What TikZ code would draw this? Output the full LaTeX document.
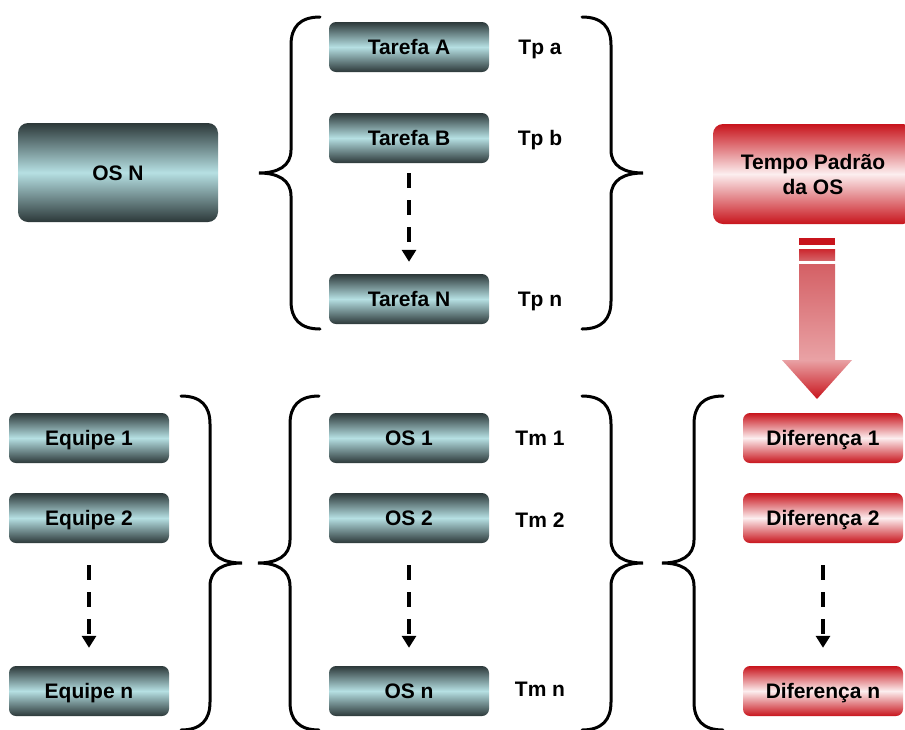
\documentclass[tikz,border=0pt]{standalone}
\usepackage{fontspec}
\setmainfont{Liberation Sans}
\usetikzlibrary{arrows.meta}
\definecolor{tealdark}{HTML}{2C3839}
\definecolor{teallight}{HTML}{B6E0E3}
\definecolor{reddark}{HTML}{C8141C}
\definecolor{redlight}{HTML}{FCEEEF}
\definecolor{redmid}{HTML}{D46065}
\definecolor{redpale}{HTML}{F3C2C4}
\definecolor{redsoft}{HTML}{E9A2A5}
\newcommand\lbl{\bfseries\fontsize{21}{25}\selectfont}
\tikzset{
  boxbase/.style={rounded corners=7pt, minimum width=160pt, minimum height=50pt, inner sep=0pt, font=\lbl},
  tbox/.style={boxbase, top color=tealdark, bottom color=tealdark, middle color=teallight,
    text height=15pt, text depth=0pt},
  rbox/.style={boxbase, top color=reddark, bottom color=reddark, middle color=redlight,
    text height=15pt, text depth=0pt},
  bigred/.style={boxbase, top color=reddark, bottom color=reddark, middle color=redlight,
    minimum width=200pt, minimum height=100pt, rounded corners=10pt, align=center},
  lbltext/.style={font=\lbl, inner sep=0pt, anchor=base},
  bracestyle/.style={line width=3pt, black, line cap=round},
  dasharrow/.style={line width=3.5pt, dash pattern=on 15pt off 12pt, -{Triangle[width=14pt,length=12pt]}},
}
\newcommand\bigbrace[4]{%
  \begin{scope}[shift={(#1,#2)},xscale=#4]
    \draw[bracestyle] (61,-#3) .. controls (41,-#3) and (32,-#3+10) .. (32,-#3+28)
      -- (32,-23) .. controls (32,-7) and (19,0) .. (0,0)
      .. controls (19,0) and (32,7) .. (32,23)
      -- (32,#3-28) .. controls (32,#3-10) and (41,#3) .. (61,#3);
  \end{scope}}
\begin{document}
\begin{tikzpicture}[x=1pt,y=-1pt]
\clip (0,0) rectangle (905,729);
\fill[white] (0,0) rectangle (905,729);

% top section
\node[tbox, minimum width=200pt, minimum height=99pt, rounded corners=10pt] (osn) at (118,172.5) {OS N};
\node[tbox] (ta) at (409,47) {Tarefa A};
\node[tbox] (tb) at (409,138) {Tarefa B};
\node[tbox] (tn) at (409,299) {Tarefa N};
\node[lbltext] (tpa) at (540,54) {Tp a};
\node[lbltext] (tpb) at (540,145) {Tp b};
\node[lbltext] (tpn) at (540,306) {Tp n};
\draw[dasharrow, shorten <=10pt, shorten >=12pt] (tb.south) -- (tn.north);
\bigbrace{259}{173}{156}{1}
\bigbrace{643}{173}{156}{-1}
\node[bigred] (tpos) at (813,174) {Tempo Padrão\\da OS};

% red block arrow
\fill[reddark] (799,238) rectangle (835,245);
\shade[top color=reddark!92!white, bottom color=redmid] (799,249) rectangle (835,260);
\shade[top color=redmid, middle color=redpale, bottom color=redsoft] (799,264) rectangle (835,360);
\shade[top color=redsoft, bottom color=reddark]
  (782,360) -- (852,360) -- (817,399) -- cycle;

% bottom section
\node[tbox] (e1) at (89,438) {Equipe 1};
\node[tbox] (e2) at (89,518) {Equipe 2};
\node[tbox] (en) at (89,691) {Equipe n};
\node[tbox] (o1) at (409,438) {OS 1};
\node[tbox] (o2) at (409,518) {OS 2};
\node[tbox] (on) at (409,691) {OS n};
\node[lbltext] (tm1) at (540,445) {Tm 1};
\node[lbltext] (tm2) at (540,527) {Tm 2};
\node[lbltext] (tmn) at (540,696) {Tm n};
\node[rbox] (d1) at (823,438) {Diferença 1};
\node[rbox] (d2) at (823,518) {Diferença 2};
\node[rbox] (dn) at (823,691) {Diferença n};

\draw[dasharrow, shorten <=22pt, shorten >=18pt] (e2.south) -- (en.north);
\draw[dasharrow, shorten <=22pt, shorten >=18pt] (o2.south) -- (on.north);
\draw[dasharrow, shorten <=22pt, shorten >=18pt] (d2.south) -- (dn.north);

\bigbrace{242}{563}{167}{-1}
\bigbrace{258}{563}{167}{1}
\bigbrace{643}{563}{167}{-1}
\bigbrace{662}{563}{167}{1}
\end{tikzpicture}
\end{document}
